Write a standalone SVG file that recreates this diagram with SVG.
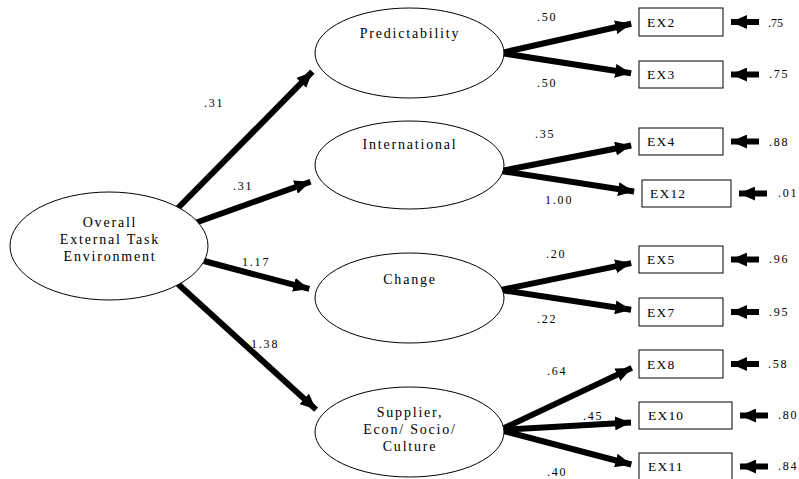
<svg xmlns="http://www.w3.org/2000/svg" width="799" height="479" viewBox="0 0 799 479">
  <style>
    .node ellipse { fill: #fff; stroke: #000; stroke-width: 1; }
    .node rect { fill: #fff; stroke: #000; stroke-width: 1; }
    .lbl { font-family: "Liberation Serif", "Times New Roman", serif; font-size: 14px; fill: #000; letter-spacing: 1.8px; text-anchor: middle; }
    .box { font-family: "Liberation Serif", "Times New Roman", serif; font-size: 13.5px; fill: #000; letter-spacing: 1.2px; }
    .coef { font-family: "Liberation Serif", "Times New Roman", serif; font-size: 12px; fill: #000; letter-spacing: 1.8px; }
    .conn line { stroke: #000; stroke-width: 6; marker-end: url(#head); }
  </style>
  <defs>
    <marker id="head" markerUnits="userSpaceOnUse" markerWidth="16" markerHeight="14" refX="16" refY="7" orient="auto">
      <path d="M0,0 L16,7 L0,14 z" fill="#000"/>
    </marker>
  </defs>

  <rect width="799" height="479" fill="#fff"/>

  <!-- connectors -->
  <g id="connectors" class="conn">
    <!-- second-order paths -->
    <line x1="177" y1="209" x2="312.4" y2="71.7"/>
    <line x1="195" y1="223" x2="310.5" y2="181.7"/>
    <line x1="204" y1="261" x2="309.3" y2="288.9"/>
    <line x1="178" y1="284" x2="316.1" y2="409.6"/>
    <!-- loadings -->
    <line x1="501" y1="53" x2="631.2" y2="23.8"/>
    <line x1="501" y1="53" x2="631.1" y2="73.3"/>
    <line x1="501" y1="171" x2="631.2" y2="145.5"/>
    <line x1="501" y1="171" x2="634.1" y2="191.5"/>
    <line x1="501" y1="290" x2="631.2" y2="263.1"/>
    <line x1="501" y1="290" x2="631.1" y2="309.7"/>
    <line x1="500" y1="430" x2="631.8" y2="367.9"/>
    <line x1="500" y1="430" x2="631.0" y2="422.5"/>
    <line x1="500" y1="430" x2="631.3" y2="464.5"/>
    <!-- error terms -->
    <line x1="759" y1="22" x2="731" y2="22"/>
    <line x1="759" y1="74.5" x2="731" y2="74.5"/>
    <line x1="759" y1="141.5" x2="731" y2="141.5"/>
    <line x1="767" y1="193.5" x2="739" y2="193.5"/>
    <line x1="759" y1="259.5" x2="731" y2="259.5"/>
    <line x1="759" y1="312" x2="731" y2="312"/>
    <line x1="759" y1="364" x2="731" y2="364"/>
    <line x1="768" y1="415.5" x2="740" y2="415.5"/>
    <line x1="768" y1="466.5" x2="740" y2="466.5"/>
  </g>

  <!-- path coefficients -->
  <g id="coefficients">
    <text class="coef" x="204" y="107">.31</text>
    <text class="coef" x="233" y="190">.31</text>
    <text class="coef" x="242" y="266">1.17</text>
    <text class="coef" x="251" y="348">1.38</text>
    <text class="coef" x="537" y="21">.50</text>
    <text class="coef" x="537" y="87">.50</text>
    <text class="coef" x="535" y="138">.35</text>
    <text class="coef" x="545" y="204">1.00</text>
    <text class="coef" x="546" y="258">.20</text>
    <text class="coef" x="537" y="323">.22</text>
    <text class="coef" x="547" y="375">.64</text>
    <text class="coef" x="583" y="420">.45</text>
    <text class="coef" x="547" y="476">.40</text>
    <text class="coef" x="768" y="27" style="letter-spacing:0">.75</text>
    <text class="coef" x="769" y="78">.75</text>
    <text class="coef" x="769" y="146">.88</text>
    <text class="coef" x="778" y="197">.01</text>
    <text class="coef" x="769" y="263">.96</text>
    <text class="coef" x="769" y="316">.95</text>
    <text class="coef" x="768" y="368">.58</text>
    <text class="coef" x="778" y="419">.80</text>
    <text class="coef" x="778" y="470">.84</text>
  </g>

  <!-- latent variables -->
  <g id="overall" class="node">
    <ellipse cx="109" cy="246" rx="99" ry="54"/>
    <text class="lbl" x="110" y="227">Overall</text>
    <text class="lbl" x="110" y="244">External Task</text>
    <text class="lbl" x="110" y="261">Environment</text>
  </g>
  <g id="predictability" class="node">
    <ellipse cx="409.5" cy="53" rx="94.5" ry="45"/>
    <text class="lbl" x="410" y="38">Predictability</text>
  </g>
  <g id="international" class="node">
    <ellipse cx="409.5" cy="165" rx="94.5" ry="44"/>
    <text class="lbl" x="410" y="149">International</text>
  </g>
  <g id="change" class="node">
    <ellipse cx="409.5" cy="298" rx="94.5" ry="45"/>
    <text class="lbl" x="410" y="284">Change</text>
  </g>
  <g id="supplier" class="node">
    <ellipse cx="409.5" cy="432" rx="94.5" ry="45"/>
    <text class="lbl" x="410" y="417">Supplier,</text>
    <text class="lbl" x="410" y="434">Econ/ Socio/</text>
    <text class="lbl" x="410" y="451">Culture</text>
  </g>

  <!-- indicators -->
  <g id="ex2" class="node"><rect x="639" y="8" width="84" height="28"/><text class="box" x="647" y="27">EX2</text></g>
  <g id="ex3" class="node"><rect x="639" y="61" width="84" height="27"/><text class="box" x="647" y="79">EX3</text></g>
  <g id="ex4" class="node"><rect x="639" y="128" width="84" height="27"/><text class="box" x="647" y="146">EX4</text></g>
  <g id="ex12" class="node"><rect x="642" y="180" width="89" height="27"/><text class="box" x="650" y="198">EX12</text></g>
  <g id="ex5" class="node"><rect x="639" y="246" width="84" height="27"/><text class="box" x="647" y="264">EX5</text></g>
  <g id="ex7" class="node"><rect x="639" y="298" width="84" height="28"/><text class="box" x="647" y="317">EX7</text></g>
  <g id="ex8" class="node"><rect x="639" y="350" width="84" height="28"/><text class="box" x="647" y="369">EX8</text></g>
  <g id="ex10" class="node"><rect x="639" y="402" width="93" height="27"/><text class="box" x="648" y="420">EX10</text></g>
  <g id="ex11" class="node"><rect x="639" y="453" width="93" height="27"/><text class="box" x="648" y="471">EX11</text></g>
</svg>
